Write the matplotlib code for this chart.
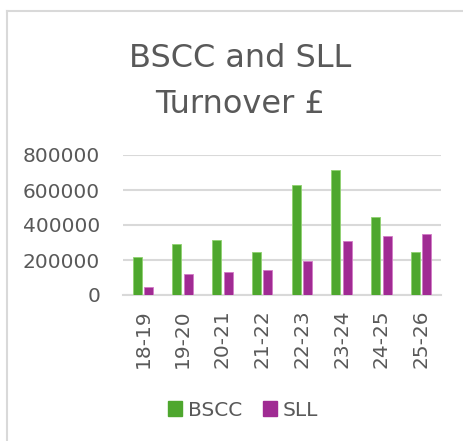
import matplotlib
matplotlib.use("Agg")
import matplotlib.pyplot as plt
from matplotlib.lines import Line2D
from matplotlib.patches import Patch
import numpy as np

categories = ["18-19", "19-20", "20-21", "21-22", "22-23", "23-24", "24-25", "25-26"]
bscc = [216000, 290000, 315000, 248000, 630000, 714000, 447000, 248000]
sll = [46000, 120000, 132000, 143000, 195000, 307000, 336000, 348000]
yticks = [0, 200000, 400000, 600000, 800000]

GREEN = "#4EA72E"
PURPLE = "#A02B93"
TXT = "#595959"
GRID = "#D9D9D9"

plt.rcParams["font.family"] = ["DejaVu Sans"]

W, H = 464, 441
fig = plt.figure(figsize=(W / 100, H / 100), dpi=100)
fig.patch.set_facecolor("white")

# axes placement in pixels
x0, x1 = 123, 441
ytop, ybot = 155, 295
ax = fig.add_axes([x0 / W, 1 - ybot / H, (x1 - x0) / W, (ybot - ytop) / H])

x = np.arange(len(categories))
bw = 0.23
off = 0.145
ax.bar(x - off, bscc, bw, color=GREEN, edgecolor="#8fd16f", linewidth=0.6, zorder=3)
ax.bar(x + off, sll, bw, color=PURPLE, edgecolor="#d27ac6", linewidth=0.6, zorder=3)

ax.set_xlim(-0.5, len(categories) - 0.5)
ax.set_ylim(0, 800000)
ax.set_yticks(yticks)
ax.set_yticklabels([str(v) for v in yticks])
ax.set_xticks(x)
ax.set_xticklabels(categories, rotation=90)
ax.yaxis.grid(True, color=GRID, linewidth=1.5, zorder=0)
ax.set_axisbelow(True)
for s in ["top", "right", "left"]:
    ax.spines[s].set_visible(False)
ax.spines["bottom"].set_color(GRID)
ax.spines["bottom"].set_linewidth(1.5)
ax.tick_params(axis="both", length=0, labelsize=14.5, colors=TXT)
ax.tick_params(axis="y", pad=16.5)
ax.tick_params(axis="x", pad=10.5)

# title
fig.text(240 / W, 1 - 67 / H, "BSCC and SLL", ha="center", va="baseline",
         fontsize=23, color=TXT)
fig.text(240 / W, 1 - 113 / H, "Turnover £", ha="center", va="baseline",
         fontsize=23, color=TXT)

# legend
handles = [Patch(facecolor=GREEN, edgecolor=GREEN), Patch(facecolor=PURPLE, edgecolor=PURPLE)]
fig.legend(handles, ["BSCC", "SLL"], loc="center", bbox_to_anchor=(243 / W, 1 - 410 / H),
           ncol=2, frameon=False, fontsize=14.5, labelcolor=TXT,
           handlelength=0.7, handleheight=0.7, handletextpad=0.3, columnspacing=1.0)

# chart border (left and top visible)
fig.add_artist(Line2D([7 / W, 7 / W], [0, 1 - 11 / H], transform=fig.transFigure,
                      color=GRID, linewidth=1.5))
fig.add_artist(Line2D([7 / W, 1], [1 - 11 / H, 1 - 11 / H], transform=fig.transFigure,
                      color=GRID, linewidth=1.5))

fig.savefig("out.png", dpi=100, facecolor="white")
